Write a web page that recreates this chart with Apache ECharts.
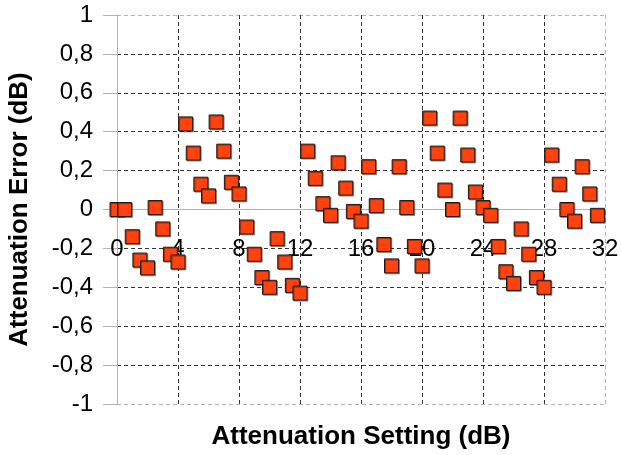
<!DOCTYPE html>
<html>
<head>
<meta charset="utf-8">
<script src="https://cdn.jsdelivr.net/npm/echarts@6/dist/echarts.min.js"></script>
<style>
  html, body { margin: 0; padding: 0; background: #fff; }
  #chart { width: 621px; height: 455px; }
</style>
</head>
<body>
<div id="chart"></div>
<script>
// attenuation setting (dB), 0.5 dB steps
var settings = [
  0, 0.5, 1, 1.5, 2, 2.5, 3, 3.5, 4, 4.5, 5, 5.5, 6, 6.5, 7, 7.5,
  8, 8.5, 9, 9.5, 10, 10.5, 11, 11.5, 12, 12.5, 13, 13.5, 14, 14.5, 15, 15.5,
  16, 16.5, 17, 17.5, 18, 18.5, 19, 19.5, 20, 20.5, 21, 21.5, 22, 22.5, 23, 23.5,
  24, 24.5, 25, 25.5, 26, 26.5, 27, 27.5, 28, 28.5, 29, 29.5, 30, 30.5, 31, 31.5
]
// measured attenuation error (dB)
var errors = [
  0.0, 0.0, -0.14, -0.26, -0.30, 0.01, -0.10, -0.23, -0.27, 0.44, 0.29, 0.13, 0.07, 0.45, 0.30, 0.14,
  0.08, -0.09, -0.23, -0.35, -0.40, -0.15, -0.27, -0.39, -0.43, 0.30, 0.16, 0.03, -0.03, 0.24, 0.11, -0.01,
  -0.06, 0.22, 0.02, -0.18, -0.29, 0.22, 0.01, -0.19, -0.29, 0.47, 0.29, 0.10, 0.0, 0.47, 0.28, 0.09,
  0.01, -0.03, -0.19, -0.32, -0.38, -0.10, -0.23, -0.35, -0.40, 0.28, 0.13, 0.0, -0.06, 0.22, 0.08, -0.03
]

var chart = echarts.init(document.getElementById('chart'))

var dark = '#333'
var gray = '#b3b3b3'
var plotH = 455 - 15 - 51

chart.setOption({
  animation: false,
  textStyle: { fontFamily: 'Liberation Sans' },
  grid: { left: 117, right: 16, top: 15, bottom: 51, containLabel: false, outerBoundsMode: 'none' },
  xAxis: {
    type: 'value',
    min: 0,
    max: 32,
    interval: 4,
    // axis crosses at y = 0 (middle of the plot)
    offset: -plotH / 2,
    name: 'Attenuation Setting (dB)',
    nameLocation: 'middle',
    nameGap: 214,
    nameTextStyle: { fontSize: 26, fontWeight: 'bold', color: '#000' },
    axisLine: { onZero: false, lineStyle: { color: gray } },
    axisTick: { show: false },
    axisLabel: { fontSize: 24, color: '#000', margin: 28 },
    splitLine: {
      show: true,
      lineStyle: { type: [4, 3], color: ['transparent', dark, dark, dark, dark, dark, dark, dark, gray] }
    }
  },
  yAxis: {
    type: 'value',
    min: -1,
    max: 1,
    interval: 0.2,
    name: 'Attenuation Error (dB)',
    nameLocation: 'middle',
    nameGap: 84,
    nameTextStyle: { fontSize: 26, fontWeight: 'bold', color: '#000' },
    axisLine: { show: true, lineStyle: { color: gray } },
    axisTick: { show: true, length: 14, lineStyle: { color: gray } },
    axisLabel: {
      fontSize: 24,
      color: '#000',
      margin: 24,
      formatter: function (v) {
        return String(Math.round(v * 10) / 10).replace('.', ',')
      }
    },
    splitLine: {
      show: true,
      lineStyle: { type: [4, 3], color: [gray, dark, dark, dark, dark, 'transparent', dark, dark, dark, dark] }
    }
  },
  series: [
    {
      type: 'scatter',
      symbol: 'rect',
      symbolSize: 14,
      itemStyle: {
        color: '#ff420e',
        borderColor: '#1a1a1a',
        borderWidth: 1,
        opacity: 1,
        shadowColor: 'rgba(0,0,0,0.35)',
        shadowOffsetX: 1,
        shadowOffsetY: 1
      },
      data: settings.map(function (x, i) { return [x, errors[i]] })
    }
  ]
})
</script>
</body>
</html>
